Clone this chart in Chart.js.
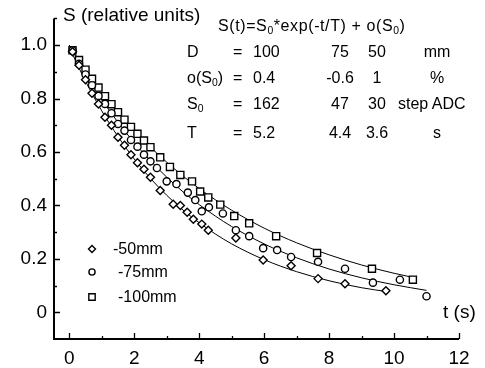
<!DOCTYPE html>
<html>
<head>
<meta charset="utf-8">
<script src="https://cdn.jsdelivr.net/npm/chart.js@4.4.0/dist/chart.umd.min.js"></script>
<style>
  body { margin: 0; background: #fff; }
  #wrap { position: relative; width: 485px; height: 368px; font-family: "Liberation Sans", Arial, sans-serif; color: #000; }
  .t { position: absolute; white-space: nowrap; line-height: 1; }
  sub { font-size: 65%; vertical-align: -0.25em; line-height: 0; }
</style>
</head>
<body>
<div id="wrap">
  <canvas id="c" width="485" height="368"></canvas>
  <div class="t" style="left:63px;top:5px;font-size:19px;">S (relative units)</div>
  <div class="t" style="left:218px;top:18px;font-size:16px;letter-spacing:0.6px;">S(t)=S<sub>0</sub>*exp(-t/T) + o(S<sub>0</sub>)</div>
  <div id="table"></div>
  <div class="t" style="left:443px;top:302px;font-size:19px;">t (s)</div>
</div>
<script>
// measured points, t in s, S relative
const t50 = [0.1, 0.3, 0.5, 0.7, 0.9, 1.1, 1.3, 1.5, 1.7, 1.9, 2.1, 2.3, 2.5, 2.8, 3.2, 3.42, 3.63, 3.82, 4.08, 4.28, 5.13, 5.97, 6.83, 7.66, 8.49, 9.75];
const s50 = [0.975, 0.925, 0.87, 0.82, 0.78, 0.73, 0.70, 0.655, 0.625, 0.59, 0.56, 0.535, 0.505, 0.456, 0.404, 0.40, 0.374, 0.348, 0.33, 0.307, 0.278, 0.196, 0.174, 0.126, 0.107, 0.081];

const t75 = [0.1, 0.3, 0.5, 0.7, 0.9, 1.1, 1.3, 1.5, 1.7, 1.9, 2.1, 2.3, 2.5, 2.7, 3.0, 3.3, 3.65, 3.88, 4.08, 4.3, 4.73, 5.13, 5.54, 5.97, 6.4, 6.83, 7.66, 8.49, 9.35, 10.18, 11.0];
const s75 = [0.98, 0.93, 0.89, 0.85, 0.81, 0.78, 0.745, 0.705, 0.68, 0.645, 0.62, 0.59, 0.565, 0.54, 0.49, 0.48, 0.448, 0.42, 0.378, 0.393, 0.37, 0.307, 0.285, 0.24, 0.233, 0.207, 0.189, 0.163, 0.111, 0.122, 0.06];

const t100 = [0.1, 0.3, 0.5, 0.7, 0.9, 1.1, 1.3, 1.5, 1.7, 1.9, 2.1, 2.3, 2.5, 2.8, 3.1, 3.42, 3.78, 4.03, 4.28, 4.65, 5.08, 5.54, 6.37, 7.63, 9.32, 10.58];
const s100 = [0.981, 0.944, 0.908, 0.874, 0.841, 0.809, 0.779, 0.749, 0.721, 0.694, 0.668, 0.643, 0.618, 0.58, 0.544, 0.514, 0.49, 0.452, 0.43, 0.403, 0.36, 0.333, 0.285, 0.222, 0.163, 0.122];

// fitted curves
const fitT50 = [0, 0.5, 1, 1.5, 2, 2.5, 3, 3.5, 4, 4.5, 5, 6, 7, 8, 9, 9.8];
const fit50 = [0.992, 0.865, 0.754, 0.658, 0.574, 0.501, 0.438, 0.383, 0.335, 0.293, 0.256, 0.197, 0.152, 0.118, 0.092, 0.077];
const fitT75 = [0, 0.5, 1, 1.5, 2, 2.5, 3, 3.5, 4, 4.5, 5, 6, 7, 8, 9, 10, 11];
const fit75 = [1.0, 0.893, 0.797, 0.711, 0.635, 0.567, 0.506, 0.451, 0.403, 0.360, 0.321, 0.256, 0.204, 0.162, 0.129, 0.103, 0.082];
const fitT100 = [0, 0.5, 1, 1.5, 2, 2.5, 3, 3.5, 4, 4.5, 5, 6, 7, 8, 9, 10, 10.6];
const fit100 = [1.0, 0.908, 0.825, 0.749, 0.681, 0.618, 0.562, 0.510, 0.463, 0.421, 0.382, 0.315, 0.260, 0.215, 0.177, 0.146, 0.130];

const seriesNames = ['-50mm', '-75mm', '-100mm'];
const markerStyles = ['rectRot', 'circle', 'rect'];
const markerSizes = [4, 3.6, 5];

const xTicks = [0, 2, 4, 6, 8, 10, 12];
const xMinor = [1, 3, 5, 7, 9, 11];
const yTicks = [0, 0.2, 0.4, 0.6, 0.8, 1.0];
const yMinor = [0.1, 0.3, 0.5, 0.7, 0.9, 1.1];

// fit parameter table
const tableRows = [
  ['D', '100', '75', '50', 'mm'],
  ['o(S<sub>0</sub>)', '0.4', '-0.6', '1', '%'],
  ['S<sub>0</sub>', '162', '47', '30', 'step ADC'],
  ['T', '5.2', '4.4', '3.6', 's']
];

const pts = (xs, ys) => xs.map((x, i) => ({ x: x, y: ys[i] }));

// build table text
const rowTop = [44, 70, 96, 125];
let html = '';
tableRows.forEach((r, i) => {
  const top = rowTop[i];
  html += `<div class="t" style="left:187px;top:${top}px;font-size:16px;">${r[0]}</div>`;
  html += `<div class="t" style="left:233px;top:${top}px;font-size:16px;">=</div>`;
  html += `<div class="t" style="left:253px;top:${top}px;font-size:16px;">${r[1]}</div>`;
  html += `<div class="t" style="left:310px;width:60px;text-align:center;top:${top}px;font-size:16px;">${r[2]}</div>`;
  html += `<div class="t" style="left:347px;width:60px;text-align:center;top:${top}px;font-size:16px;">${r[3]}</div>`;
  if (r[4] === 'step ADC') {
    html += `<div class="t" style="left:398px;top:${top}px;font-size:16px;">${r[4]}</div>`;
  } else {
    html += `<div class="t" style="left:407px;width:60px;text-align:center;top:${top}px;font-size:16px;">${r[4]}</div>`;
  }
});
document.getElementById('table').innerHTML = html;

// axis lines and inward tick marks
const axisPlugin = {
  id: 'axisLines',
  afterDraw(chart) {
    const { ctx, chartArea: a, scales: { x, y } } = chart;
    ctx.save();
    ctx.strokeStyle = '#000';
    ctx.lineWidth = 2;
    ctx.beginPath();
    ctx.moveTo(a.left, a.top);
    ctx.lineTo(a.left, a.bottom);
    ctx.lineTo(a.right, a.bottom);
    ctx.stroke();
    ctx.lineWidth = 1.3;
    ctx.beginPath();
    xTicks.concat(xMinor).forEach(v => {
      const px = Math.round(x.getPixelForValue(v)) + 0.5;
      const len = xTicks.includes(v) ? 6 : 3;
      ctx.moveTo(px, a.bottom);
      ctx.lineTo(px, a.bottom - len);
    });
    yTicks.concat(yMinor).forEach(v => {
      const py = Math.round(y.getPixelForValue(v)) + 0.5;
      const len = yTicks.includes(v) ? 6 : 3;
      ctx.moveTo(a.left, py);
      ctx.lineTo(a.left + len, py);
    });
    ctx.stroke();
    ctx.restore();
  }
};

// legend inside the plot
const legendPlugin = {
  id: 'innerLegend',
  afterDraw(chart) {
    const ctx = chart.ctx;
    const rowsY = [249, 272, 297];
    const textX = [113, 118, 118];
    ctx.save();
    ctx.font = '16px "Liberation Sans", Arial, sans-serif';
    ctx.textBaseline = 'middle';
    seriesNames.forEach((name, i) => {
      ctx.fillStyle = '#fff';
      ctx.strokeStyle = '#000';
      ctx.lineWidth = 1.4;
      Chart.helpers.drawPoint(ctx, { pointStyle: markerStyles[i], radius: markerSizes[i] - 0.5, rotation: 0, borderWidth: 1.4 }, 92, rowsY[i]);
      ctx.fillStyle = '#000';
      ctx.fillText(name, textX[i], rowsY[i] + 1);
    });
    ctx.restore();
  }
};

const markerSet = (xs, ys, i) => ({
  label: seriesNames[i],
  data: pts(xs, ys),
  showLine: false,
  pointStyle: markerStyles[i],
  pointRadius: markerSizes[i],
  pointBackgroundColor: '#fff',
  pointBorderColor: '#000',
  pointBorderWidth: 1.4
});
const curveSet = (xs, ys) => ({
  data: pts(xs, ys),
  showLine: true,
  pointRadius: 0,
  borderColor: '#000',
  borderWidth: 1,
  cubicInterpolationMode: 'monotone',
  fill: false
});

const tickFont = { family: '"Liberation Sans", Arial, sans-serif', size: 19 };

new Chart(document.getElementById('c').getContext('2d'), {
  type: 'scatter',
  data: {
    datasets: [
      markerSet(t50, s50, 0),
      markerSet(t75, s75, 1),
      markerSet(t100, s100, 2),
      curveSet(fitT50, fit50),
      curveSet(fitT75, fit75),
      curveSet(fitT100, fit100)
    ]
  },
  options: {
    responsive: false,
    animation: false,
    layout: { padding: { top: 15, right: 26, left: 0, bottom: 0 } },
    plugins: { legend: { display: false }, tooltip: { enabled: false } },
    scales: {
      x: {
        type: 'linear',
        min: -0.47,
        max: 12,
        afterBuildTicks: s => { s.ticks = xTicks.map(v => ({ value: v })); },
        afterFit: s => { s.height = 29; },
        grid: { display: false, drawTicks: false },
        border: { display: false },
        ticks: { color: '#000', padding: 8, maxRotation: 0, font: tickFont }
      },
      y: {
        type: 'linear',
        min: -0.1,
        max: 1.1,
        afterBuildTicks: s => { s.ticks = yTicks.map(v => ({ value: v })); },
        afterFit: s => { s.width = 54; },
        grid: { display: false, drawTicks: false },
        border: { display: false },
        ticks: {
          color: '#000',
          padding: 7,
          font: tickFont,
          callback: v => v === 0 ? '0' : v.toFixed(1)
        }
      }
    }
  },
  plugins: [axisPlugin, legendPlugin]
});
</script>
</body>
</html>
